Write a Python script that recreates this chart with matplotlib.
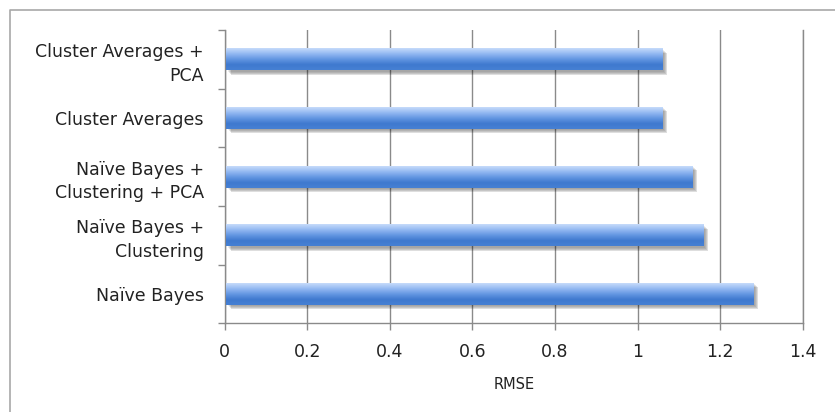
import numpy as np
import matplotlib
matplotlib.use("Agg")
import matplotlib.pyplot as plt
import matplotlib.transforms as mtransforms
from matplotlib.colors import LinearSegmentedColormap
from matplotlib.lines import Line2D

methods = ["Naïve Bayes",
           "Naïve Bayes +\nClustering",
           "Naïve Bayes +\nClustering + PCA",
           "Cluster Averages",
           "Cluster Averages +\nPCA"]
rmse = [1.277, 1.156, 1.128, 1.056, 1.057]
xticks = [0, 0.2, 0.4, 0.6, 0.8, 1, 1.2, 1.4]
xtick_labels = ["0", "0.2", "0.4", "0.6", "0.8", "1", "1.2", "1.4"]

plt.rcParams['font.family'] = ['DejaVu Sans']

fig = plt.figure(figsize=(8.35, 4.12), dpi=100)
ax = fig.add_axes([224.5 / 835, 88.7 / 412, 578.5 / 835, 293.3 / 412])

grey = "#8a8a8a"
ypos = np.arange(len(methods))
bar_h = 0.375

# soft drop shadow, offset right/down
for k, a in enumerate([0.07, 0.09, 0.11, 0.13]):
    off = mtransforms.offset_copy(ax.transData, fig=fig, x=1.5 + k, y=-(1.5 + k), units='dots')
    ax.barh(ypos, rmse, height=bar_h, left=0.004, color="black", alpha=a,
            transform=off, zorder=2, linewidth=0)

# gradient bars
bars = ax.barh(ypos, rmse, height=bar_h, left=0.004, color="none", zorder=3, linewidth=0)
cmap = LinearSegmentedColormap.from_list("barblue",
                                         ["#c6dbfa", "#94b9f2", "#6497e2", "#3f79cf", "#4680d3"])
grad = np.linspace(0, 1, 64).reshape(-1, 1)
for b in bars:
    x0, y0 = b.get_x(), b.get_y()
    im = ax.imshow(grad, cmap=cmap, aspect='auto', origin='upper',
                   extent=[x0, x0 + b.get_width(), y0, y0 + b.get_height()],
                   zorder=3, interpolation='bilinear')
    im.set_clip_path(b)

ax.set_xlim(0, 1.4)
ax.set_ylim(-0.5, len(methods) - 0.5)

ax.set_xticks(xticks)
ax.set_xticklabels(xtick_labels, fontsize=12.5, color="#222222")
ax.set_yticks(ypos)
ax.set_yticklabels(methods, fontsize=12.5, color="#222222", linespacing=1.4)
ax.set_yticks(np.arange(-0.5, len(methods)), minor=True)

ax.tick_params(axis='y', which='major', length=0, pad=15)
ax.tick_params(axis='y', which='minor', length=5, width=1.0, color=grey, direction='out')
ax.tick_params(axis='x', length=5, width=1.0, color=grey, pad=9)

ax.xaxis.grid(True, color=grey, linewidth=1.0, zorder=1)
ax.set_axisbelow(True)
ax.spines["top"].set_visible(False)
for side in ["left", "bottom", "right"]:
    ax.spines[side].set_color(grey)
    ax.spines[side].set_linewidth(1.0)

ax.set_xlabel("RMSE", fontsize=10.5, color="#222222", labelpad=12)

# outer frame around the chart area
fig.add_artist(Line2D([10 / 835, 10 / 835, 1.0], [0.0, 1 - 10 / 412, 1 - 10 / 412],
                      transform=fig.transFigure, color="#a8a8a8", linewidth=1.2))

fig.savefig("out.png", dpi=100)
